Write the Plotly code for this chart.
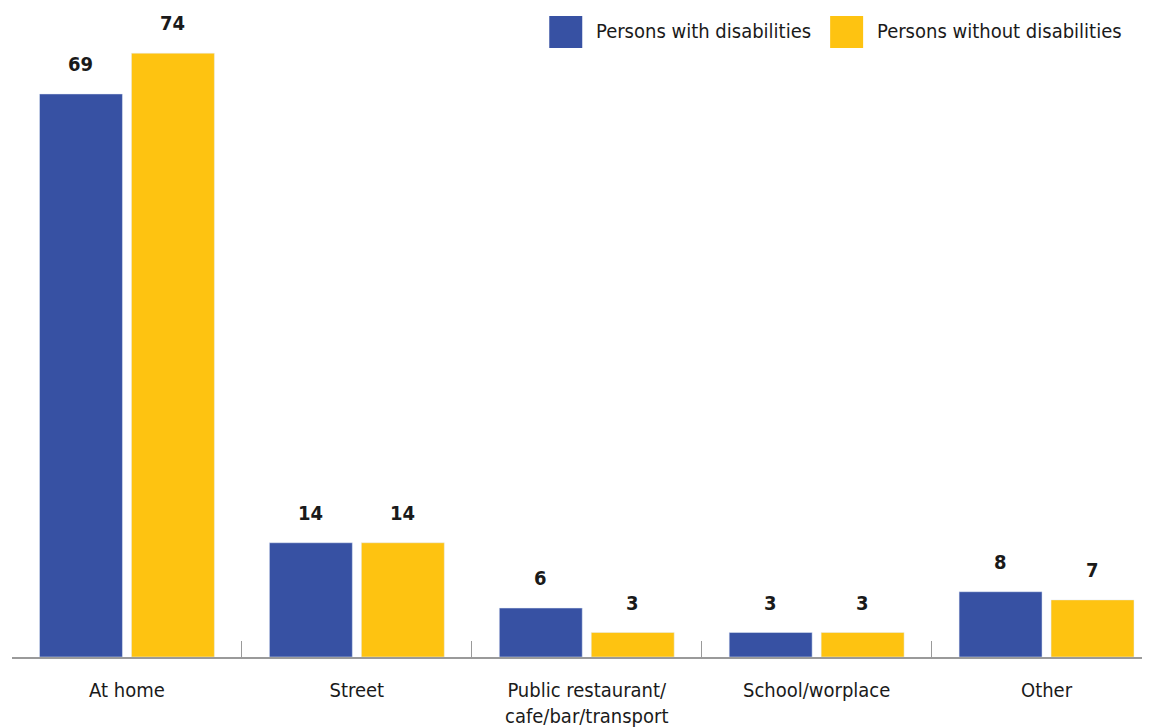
import plotly.graph_objects as go

categories = ["At home", "Street", "Public restaurant/<br>cafe/bar/transport", "School/worplace", "Other"]
with_dis = [69, 14, 6, 3, 8]
without_dis = [74, 14, 3, 3, 7]
series_names = ["Persons with disabilities", "Persons without disabilities"]
colors = ["#3751a3", "#fec311"]

FONT = "Liberation Sans Narrow, DejaVu Sans Condensed, Roboto, sans-serif"
TXT = "#1a1a1a"

W, H = 1150, 727
OFF = 8                           # page body offset
PL, PR = 11.5 - OFF, 1150         # plot area left/right in figure px
PB = 657 - OFF                    # baseline in figure px
PW = PR - PL
CAT = 230.0                       # px per category
X_END = -0.5 + PW / CAT

fig = go.Figure()
for name, vals, col in zip(series_names, [with_dis, without_dis], colors):
    fig.add_trace(go.Bar(x=categories, y=vals, name=name, marker_color=col,
                         showlegend=False, hoverinfo="x+y"))

# value labels
for vals, shift in [(with_dis, -46), (without_dis, 46)]:
    for c, v in zip(categories, vals):
        fig.add_annotation(x=c, y=v, xref="x", yref="y", text=f"<b>{v}</b>",
                           showarrow=False, xshift=shift, yshift=16, yanchor="bottom",
                           font=dict(family=FONT, size=20, color=TXT))

# custom legend (page px -> paper)
def px_x(x):
    return (x - OFF - PL) / PW

def px_y(y):
    return (PB - (y - OFF)) / PB

leg = [(549, 582, 596), (830, 863, 877)]
for (x0, x1, tx), name, col in zip(leg, series_names, colors):
    fig.add_shape(type="rect", xref="paper", yref="paper",
                  x0=px_x(x0), x1=px_x(x1), y0=px_y(48), y1=px_y(16),
                  fillcolor=col, line_width=0)
    fig.add_annotation(xref="paper", yref="paper", x=px_x(tx) - 0.002,
                       y=px_y(31), text=name, showarrow=False,
                       xanchor="left", yanchor="middle",
                       font=dict(family=FONT, size=20, color=TXT))

fig.update_layout(
    width=W, height=H,
    margin=dict(l=PL, r=W - PR, t=0, b=H - PB, pad=0),
    barmode="group", bargap=0.2, bargroupgap=0.098,
    plot_bgcolor="white", paper_bgcolor="white",
    font=dict(family=FONT, color=TXT, size=20),
    xaxis=dict(range=[-0.5, X_END], showline=True, linecolor="#9a9a9a", linewidth=1.5,
               ticks="inside", tickson="boundaries", ticklen=16, tickcolor="#9a9a9a",
               tickwidth=1, ticklabelstandoff=14, showgrid=False,
               tickfont=dict(family=FONT, size=20, color=TXT)),
    yaxis=dict(range=[0, PB / 8.16], visible=False, showgrid=False),
)

fig.write_html("out.html")
